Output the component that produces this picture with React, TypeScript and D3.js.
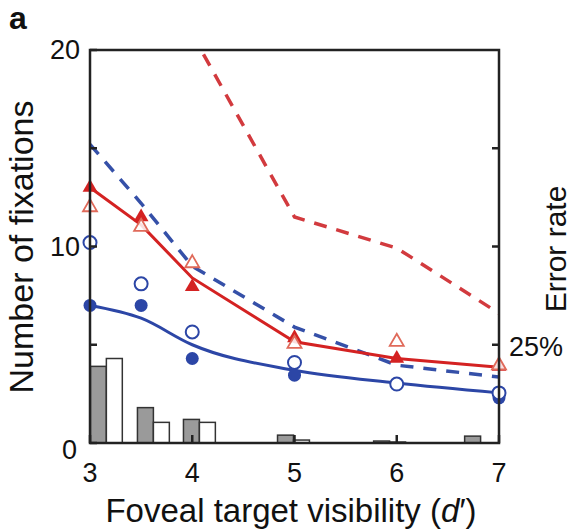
import React from "react";
import * as d3 from "d3";

// foveal target visibility (d') sample points
const dValues = [3, 3.5, 4, 5, 6, 7];

// number of fixations
const redFit = [13.0, 11.1, 8.4, 5.15, 4.3, 3.85];
const redFilled = [13.0, 11.5, 7.95, 5.35, 4.3, 3.9];
const redOpen = [12.0, 11.0, 9.15, 5.05, 5.15, 3.95];
const blueFit = [7.0, 6.35, 5.0, 3.7, 3.05, 2.55];
const blueFilled = [7.0, 7.0, 4.3, 3.45, 3.0, 2.3];
const blueOpen = [10.2, 8.1, 5.65, 4.1, 3.0, 2.55];

// error rate (%), right axis
const redErrorD = [4, 5, 6, 7];
const redErrorRate = [104, 57.5, 49.6, 33];
const blueErrorRate = [76, 61, 45, 29.5, 19.8, 16.8];

// histogram
const binCenters = [3.16, 3.62, 4.07, 4.99, 5.93, 6.82];
const grayCounts = [3.9, 1.8, 1.2, 0.4, 0.1, 0.35];
const whiteCounts = [4.3, 1.05, 1.05, 0.15, 0.05, 0];

const xTicks = [3, 4, 5, 6, 7];
const yTicks = [0, 5, 10, 15, 20];
const yLabels = [0, 10, 20];
const errTicks = [25, 50, 75];
const errLabels = [25];

const W = 573;
const H = 532;
const left = 90;
const right = 499;
const top = 50;
const bottom = 443;

const RED = "#d42222";
const RED_DASH = "#d23a3e";
const RED_OPEN = "#e06a5a";
const BLUE = "#2c46a6";
const BLUE_DASH = "#3550a8";
const AXIS = "#222";
const FONT = "'Liberation Sans', Arial, Helvetica, sans-serif";

export default function App() {
  const x = d3.scaleLinear().domain([3, 7]).range([left, right]);
  const y = d3.scaleLinear().domain([0, 20]).range([bottom, top]);
  const yErr = d3.scaleLinear().domain([0, 100]).range([bottom, top]);

  const line = d3
    .line<[number, number]>()
    .x((d) => x(d[0]))
    .y((d) => y(d[1]));
  const smooth = d3
    .line<[number, number]>()
    .x((d) => x(d[0]))
    .y((d) => y(d[1]))
    .curve(d3.curveMonotoneX);
  const errLine = d3
    .line<[number, number]>()
    .x((d) => x(d[0]))
    .y((d) => yErr(d[1]));

  const zip = (xs: number[], ys: number[]) =>
    xs.map((v, i) => [v, ys[i]] as [number, number]);

  const barW = x(3.156) - x(3);

  const tri = d3.symbol().type(d3.symbolTriangle).size(95);
  const triOpen = d3.symbol().type(d3.symbolTriangle).size(85);

  return (
    <svg
      width={W}
      height={H}
      style={{ position: "absolute", left: 0, top: 0, background: "#fff" }}
      fontFamily={FONT}
    >
      <defs>
        <clipPath id="plotClip">
          <rect x={left} y={top} width={right - left} height={bottom - top} />
        </clipPath>
      </defs>

      <text x={9} y={29} fontSize={32} fontWeight="bold" fill="#111">
        a
      </text>

      {/* histogram */}
      <g stroke="#333" strokeWidth={1.5}>
        {binCenters.map((c, i) => (
          <g key={i}>
            {grayCounts[i] > 0 && (
              <rect
                x={x(c) - barW}
                y={y(grayCounts[i])}
                width={barW}
                height={y(0) - y(grayCounts[i])}
                fill="#9a9a9a"
              />
            )}
            {whiteCounts[i] > 0 && (
              <rect
                x={x(c)}
                y={y(whiteCounts[i])}
                width={barW}
                height={y(0) - y(whiteCounts[i])}
                fill="#fff"
              />
            )}
          </g>
        ))}
      </g>

      {/* error-rate dashed lines */}
      <g clipPath="url(#plotClip)" fill="none" strokeWidth={3.5} strokeDasharray="13 10">
        <path d={errLine(zip(redErrorD, redErrorRate)) || ""} stroke={RED_DASH} />
        <path d={errLine(zip(dValues, blueErrorRate)) || ""} stroke={BLUE_DASH} />
      </g>

      {/* fitted lines */}
      <path d={line(zip(dValues, redFit)) || ""} fill="none" stroke={RED} strokeWidth={3} />
      <path d={smooth(zip(dValues, blueFit)) || ""} fill="none" stroke={BLUE} strokeWidth={3} />

      {/* markers */}
      {dValues.map((d, i) => (
        <circle key={"bf" + i} cx={x(d)} cy={y(blueFilled[i])} r={6.5} fill={BLUE} />
      ))}
      {dValues.map((d, i) => (
        <circle
          key={"bo" + i}
          cx={x(d)}
          cy={y(blueOpen[i])}
          r={6.5}
          fill="#fff"
          stroke={BLUE}
          strokeWidth={2}
        />
      ))}
      {dValues.map((d, i) => (
        <path
          key={"rf" + i}
          d={tri() || ""}
          transform={`translate(${x(d)},${y(redFilled[i])})`}
          fill={RED}
        />
      ))}
      {dValues.map((d, i) => (
        <path
          key={"ro" + i}
          d={triOpen() || ""}
          transform={`translate(${x(d)},${y(redOpen[i])})`}
          fill="#fff"
          fillOpacity={0.85}
          stroke={RED_OPEN}
          strokeWidth={1.8}
        />
      ))}

      {/* frame */}
      <rect
        x={left}
        y={top}
        width={right - left}
        height={bottom - top}
        fill="none"
        stroke={AXIS}
        strokeWidth={2.5}
      />

      {/* left ticks */}
      {yTicks.map((t) => (
        <line key={"yt" + t} x1={left} x2={left + 7} y1={y(t)} y2={y(t)} stroke={AXIS} strokeWidth={2.5} />
      ))}
      {yLabels.map((t) => (
        <text
          key={"yl" + t}
          x={t === 0 ? 77 : 80}
          y={t === 0 ? y(t) + 7 : y(t)}
          dy="0.35em"
          textAnchor="end"
          fontSize={27}
          fill="#111"
        >
          {t}
        </text>
      ))}

      {/* right ticks */}
      {errTicks.map((t) => (
        <line key={"et" + t} x1={right - 7} x2={right} y1={yErr(t)} y2={yErr(t)} stroke={AXIS} strokeWidth={2.5} />
      ))}
      {errLabels.map((t) => (
        <text key={"el" + t} x={509} y={yErr(t) + 2} dy="0.35em" fontSize={27} fill="#111">
          {t + "%"}
        </text>
      ))}

      {/* bottom ticks */}
      {xTicks.map((t) => (
        <line key={"xt" + t} x1={x(t)} x2={x(t)} y1={bottom} y2={bottom - 8} stroke={AXIS} strokeWidth={2.5} />
      ))}
      {xTicks.map((t) => (
        <text key={"xl" + t} x={x(t)} y={482} textAnchor="middle" fontSize={27} fill="#111">
          {t}
        </text>
      ))}

      {/* axis titles */}
      <text x={291} y={522} textAnchor="middle" fontSize={33} fill="#111">
        Foveal target visibility (<tspan fontStyle="italic">d</tspan>′)
      </text>
      <text
        transform="translate(33,247) rotate(-90)"
        textAnchor="middle"
        fontSize={34}
        fill="#111"
      >
        Number of fixations
      </text>
      <text
        transform="translate(566,249) rotate(-90)"
        textAnchor="middle"
        fontSize={30}
        fill="#111"
      >
        Error rate
      </text>
    </svg>
  );
}
